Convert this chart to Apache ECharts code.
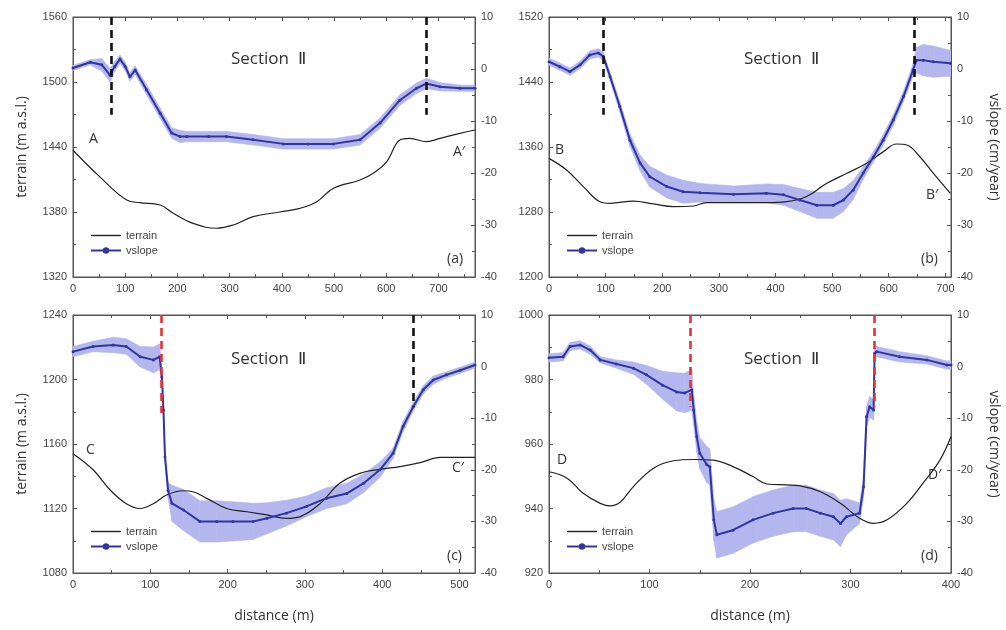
<!DOCTYPE html>
<html>
<head>
<meta charset="utf-8">
<script src="https://cdn.jsdelivr.net/npm/echarts@6/dist/echarts.min.js"></script>
<style>
  html, body { margin: 0; padding: 0; background: #fff; }
  #main { width: 1006px; height: 630px; }
</style>
</head>
<body>
<div id="main"></div>
<script>
// panel (a)
const distA = [0, 33, 55, 71, 80, 90, 100, 109, 119, 141, 167, 189, 205, 218, 260, 294, 345, 403, 450, 499, 550, 588, 626, 658, 677, 703, 741, 770];
const vslA = [0.2, 1.3, 0.8, -1.2, 0.5, 1.9, 0.5, -1.5, -0.2, -4, -8.5, -12.3, -13, -13, -13, -13, -13.6, -14.4, -14.4, -14.4, -13.6, -10.4, -6, -3.7, -2.8, -3.4, -3.7, -3.7];
const errA = [0.5, 0.5, 1.2, 1.3, 1.0, 0.8, 0.8, 0.8, 0.8, 1, 1, 1, 1.2, 1, 1, 1, 1, 1, 1, 1, 1, 1, 1, 1, 1, 0.8, 0.6, 0.6];
const tDistA = [0, 51, 103, 128, 167, 192, 230, 275, 307, 345, 396, 435, 467, 499, 550, 575, 601, 626, 645, 677, 703, 741, 770];
const terrA = [1437, 1412.6, 1391, 1388.6, 1386.5, 1378.8, 1369.5, 1365, 1368, 1375.7, 1380, 1383.4, 1389.5, 1402, 1409.5, 1415.7, 1426.5, 1446.5, 1448, 1445, 1448, 1452.6, 1455.7];

// panel (b)
const distB = [0, 19, 37, 55, 72, 87, 96, 108, 125, 143, 161, 178, 208, 237, 267, 326, 384, 414, 443, 473, 502, 520, 537, 555, 573, 590, 608, 626, 643, 649, 661, 679, 709];
const vslB = [1.4, 0.45, -0.5, 0.8, 2.7, 3.1, 2.4, -1.5, -7.2, -13.7, -18.1, -20.7, -22.6, -23.6, -23.8, -24.1, -23.9, -24.2, -25.2, -26.2, -26.2, -25.2, -23.3, -20, -16.9, -13.7, -9.8, -5.3, -0.2, 1.7, 1.7, 1.4, 1.1];
const errB = [0.7, 0.7, 0.7, 0.7, 0.8, 0.8, 0.8, 0.8, 1, 1.2, 1.5, 2, 2.2, 2.2, 1.8, 1.6, 1.8, 2, 2.2, 2.5, 2.5, 2.2, 1.8, 1.2, 1, 1, 1, 1, 1.2, 2.5, 3, 3, 2.5];
const tDistB = [0, 31, 61, 90, 108, 149, 184, 220, 255, 278, 326, 384, 420, 455, 490, 526, 561, 590, 614, 632, 655, 679, 709];
const terrB = [1346, 1331.7, 1311, 1292.7, 1290.7, 1293.5, 1290, 1286.6, 1287.4, 1291.5, 1291.5, 1291.5, 1292.7, 1299, 1315, 1327.6, 1340, 1354, 1363.7, 1362.5, 1348, 1327.6, 1303];

// panel (c)
const distC = [0, 26, 52, 69, 87, 104, 112, 115, 117, 119, 123, 128, 143, 164, 186, 207, 233, 251, 276, 302, 328, 354, 376, 397, 414, 427, 440, 453, 466, 483, 501, 520];
const vslC = [2.9, 3.9, 4.2, 3.9, 1.9, 1.3, 1.9, -2, -8.4, -17.5, -24, -26.5, -27.8, -30, -30, -30, -30, -29.4, -28.4, -27.1, -25.5, -24.6, -22.6, -20, -16.8, -11.6, -7.8, -4.5, -2.6, -1.6, -0.7, 0.3];
const errC = [1, 1, 1.5, 1.5, 2, 2.5, 2.5, 1.5, 1, 1, 1.5, 3.5, 4, 4, 4, 3.8, 3.5, 3, 2.5, 2, 2, 2, 1.8, 1.5, 1, 1, 0.8, 0.8, 0.8, 0.6, 0.6, 0.6];
const tDistC = [0, 26, 48, 69, 87, 104, 121, 143, 155, 173, 199, 225, 251, 276, 294, 320, 345, 371, 397, 423, 449, 475, 501, 520];
const terrC = [1154, 1144, 1131.5, 1123, 1120, 1123, 1128.4, 1131, 1130.4, 1126.3, 1120, 1118, 1116, 1113.9, 1115, 1123.2, 1135.6, 1141.8, 1144.3, 1146, 1148.4, 1151.7, 1151.7, 1151.7];

// panel (d)
const distD = [0, 14, 21, 31, 41, 51, 67, 84, 97, 113, 127, 135, 142, 144, 147, 150, 157, 160, 164, 167, 183, 203, 223, 243, 256, 270, 283, 290, 296, 309, 313, 316, 319, 323, 324, 326, 349, 376, 396, 400];
const vslD = [1.7, 1.9, 3.9, 4.2, 3.2, 1.3, 0.5, -0.3, -1.6, -3.6, -4.9, -5.1, -4.5, -8.4, -13.6, -16.8, -19, -19.4, -29.7, -32.6, -31.7, -29.7, -28.4, -27.5, -27.5, -28.4, -29.1, -30.4, -29.1, -28.4, -23.3, -9.7, -7.8, -8.4, 2.6, 2.9, 1.9, 1.3, 0.3, 0.3];
const errD = [0.8, 0.8, 0.8, 0.8, 0.8, 0.6, 0.8, 1.2, 1.8, 2.7, 3.7, 3.8, 4, 3, 3, 3, 3.5, 3.5, 4, 4.5, 4.5, 4.5, 4.5, 4.5, 4.5, 4.5, 4.5, 4.5, 3.5, 2, 2, 2, 2, 2, 1, 1, 1, 0.8, 0.8, 0.8];
const tDistD = [0, 18, 34, 51, 61, 71, 84, 104, 124, 144, 163, 183, 203, 217, 236, 250, 270, 290, 309, 323, 336, 356, 372, 389, 400];
const terrD = [951.4, 949.4, 944.7, 941.6, 940.8, 942, 946.8, 952.5, 954.8, 955.2, 955, 953, 949.9, 947.6, 947.3, 947, 945.2, 941.6, 937, 935.4, 936.4, 941.6, 947.8, 955, 962.3];

// dashed section limits: [distance, bottom vslope, colour]
const cutsA = [[74, -8.8, '#111'], [677, -8.8, '#111']];
const cutsB = [[95, -8.8, '#111'], [645, -8.8, '#111']];
const cutsC = [[114, -9, '#e8303a'], [440, -7.8, '#111']];
const cutsD = [[141, -7.8, '#e8303a'], [324, -7.8, '#e8303a']];

const vTicks = { min: -40, max: 10, interval: 10 };

const panels = [
  { grid: { left: 73, top: 17, width: 402, height: 260 }, xMax: 770, yMin: 1320, yMax: 1560, yInt: 60,
    dist: distA, vsl: vslA, err: errA, tDist: tDistA, terr: terrA, cuts: cutsA, leftName: true, rightName: false, xName: false },
  { grid: { left: 549, top: 17, width: 402, height: 260 }, xMax: 710, yMin: 1200, yMax: 1520, yInt: 80,
    dist: distB, vsl: vslB, err: errB, tDist: tDistB, terr: terrB, cuts: cutsB, leftName: false, rightName: true, xName: false },
  { grid: { left: 73, top: 315, width: 402, height: 258 }, xMax: 520, yMin: 1080, yMax: 1240, yInt: 40,
    dist: distC, vsl: vslC, err: errC, tDist: tDistC, terr: terrC, cuts: cutsC, leftName: true, rightName: false, xName: true },
  { grid: { left: 549, top: 315, width: 402, height: 258 }, xMax: 400, yMin: 920, yMax: 1000, yInt: 20,
    dist: distD, vsl: vslD, err: errD, tDist: tDistD, terr: terrD, cuts: cutsD, leftName: false, rightName: true, xName: true }
];

const axisCol = '#555';
const labelStyle = { color: '#444', fontSize: 11, fontFamily: 'Liberation Sans', formatter: v => String(v) };
const nameStyle = { color: '#333', fontSize: 14, fontFamily: 'Open Sans' };
const zip = (xs, ys) => xs.map((x, i) => [x, ys[i]]);

// error band: one quad per segment between neighbouring points
function bandItem(params, api) {
  const p0 = api.coord([api.value(0), api.value(1)]);
  const p1 = api.coord([api.value(3), api.value(4)]);
  const p2 = api.coord([api.value(3), api.value(5)]);
  const p3 = api.coord([api.value(0), api.value(2)]);
  return {
    type: 'polygon',
    shape: { points: [p0, p1, p2, p3] },
    style: { fill: '#b3b7ee', stroke: '#b3b7ee', lineWidth: 0.6 }
  };
}

const grids = [], xAxes = [], topAxes = [], yAxes = [], series = [], legends = [];

panels.forEach((p, i) => {
  grids.push(Object.assign({ show: true, borderColor: axisCol, borderWidth: 1 }, p.grid));
  xAxes.push({
    type: 'value', gridIndex: i, position: 'bottom', min: 0, max: p.xMax, interval: 100,
    name: p.xName ? 'distance (m)' : '', nameLocation: 'middle', nameGap: 36, nameTextStyle: nameStyle,
    axisLine: { onZero: false, lineStyle: { color: axisCol } },
    axisTick: { inside: true, length: 4, lineStyle: { color: axisCol } },
    minorTick: { show: true, splitNumber: 2, length: 3, lineStyle: { color: axisCol } },
    axisLabel: Object.assign({ margin: 6, showMaxLabel: p.xMax % 100 === 0 }, labelStyle),
    splitLine: { show: false }
  });
  // frame ticks along the top edge
  topAxes.push({
    type: 'value', gridIndex: i, position: 'top', min: 0, max: p.xMax, interval: 100,
    axisLine: { onZero: false, lineStyle: { color: axisCol } },
    axisTick: { inside: true, length: 4, lineStyle: { color: axisCol } },
    minorTick: { show: true, splitNumber: 2, length: 3, lineStyle: { color: axisCol } },
    axisLabel: { show: false },
    splitLine: { show: false }
  });
  yAxes.push({
    type: 'value', gridIndex: i, position: 'left', min: p.yMin, max: p.yMax, interval: p.yInt,
    name: p.leftName ? 'terrain (m a.s.l.)' : '', nameLocation: 'middle', nameGap: 44, nameTextStyle: nameStyle,
    axisLine: { show: true, onZero: false, lineStyle: { color: axisCol } },
    axisTick: { inside: true, length: 4, lineStyle: { color: axisCol } },
    minorTick: { show: true, splitNumber: 2, length: 3, lineStyle: { color: axisCol } },
    axisLabel: Object.assign({ margin: 6 }, labelStyle),
    splitLine: { show: false }
  });
  yAxes.push(Object.assign({
    type: 'value', gridIndex: i, position: 'right',
    name: p.rightName ? 'vslope (cm/year)' : '', nameLocation: 'middle', nameGap: 36, nameRotate: -90, nameTextStyle: nameStyle,
    axisLine: { show: true, onZero: false, lineStyle: { color: axisCol } },
    axisTick: { inside: true, length: 4, lineStyle: { color: axisCol } },
    minorTick: { show: true, splitNumber: 2, length: 3, lineStyle: { color: axisCol } },
    axisLabel: Object.assign({ margin: 6 }, labelStyle),
    splitLine: { show: false }
  }, vTicks));

  const segs = [];
  for (let k = 0; k < p.dist.length - 1; k++) {
    segs.push([
      p.dist[k], p.vsl[k] - p.err[k], p.vsl[k] + p.err[k],
      p.dist[k + 1], p.vsl[k + 1] - p.err[k + 1], p.vsl[k + 1] + p.err[k + 1]
    ]);
  }

  series.push({
    name: 'terrain', type: 'line', xAxisIndex: i, yAxisIndex: 2 * i,
    data: zip(p.tDist, p.terr), smooth: 0.4, showSymbol: false, symbol: 'none',
    lineStyle: { color: '#222', width: 1.2 }, itemStyle: { color: '#222' }, z: 3
  });
  series.push({
    name: 'err' + i, type: 'custom', xAxisIndex: i, yAxisIndex: 2 * i + 1,
    silent: true, renderItem: bandItem, data: segs,
    encode: { x: [0, 3], y: [1, 2, 4, 5] }, z: 2
  });
  series.push({
    name: 'vslope', type: 'line', xAxisIndex: i, yAxisIndex: 2 * i + 1,
    data: zip(p.dist, p.vsl), symbol: 'circle', symbolSize: 3,
    lineStyle: { color: '#3035a0', width: 2 }, itemStyle: { color: '#3035a0' }, z: 4,
    markLine: {
      silent: true, symbol: ['none', 'none'], label: { show: false },
      data: p.cuts.map(c => [
        { coord: [c[0], 10], lineStyle: { color: c[2], type: [8, 5], width: 2.6 } },
        { coord: [c[0], c[1]] }
      ])
    }
  });

  legends.push({
    orient: 'vertical', left: p.grid.left + 12, top: p.grid.top + p.grid.height - 52,
    data: [
      { name: 'terrain', icon: 'path://M0,0 H30 V1.4 H0 Z' },
      { name: 'vslope' }
    ],
    itemWidth: 30, itemHeight: 8, itemGap: 4,
    textStyle: { color: '#444', fontSize: 11, fontFamily: 'Liberation Sans' },
    selectedMode: false
  });
});

const txt = (x, y, s, size) => ({
  type: 'text', left: x, top: y,
  style: { text: s, fill: '#333', fontSize: size, fontFamily: 'Open Sans' }
});

const graphics = [
  txt(231, 51, 'Section  Ⅱ', 17), txt(744, 51, 'Section  Ⅱ', 17),
  txt(231, 351, 'Section  Ⅱ', 17), txt(744, 351, 'Section  Ⅱ', 17),
  txt(89, 132, 'A', 14), txt(453, 145, 'A′', 14),
  txt(555, 143, 'B', 14), txt(926, 188, 'B′', 14),
  txt(86, 443, 'C', 14), txt(452, 461, 'C′', 14),
  txt(557, 453, 'D', 14), txt(928, 468, 'D′', 14),
  txt(447, 252, '(a)', 14), txt(921, 252, '(b)', 14),
  txt(447, 549, '(c)', 14), txt(921, 549, '(d)', 14)
];

const chart = echarts.init(document.getElementById('main'));
chart.setOption({
  animation: false,
  backgroundColor: '#fff',
  grid: grids,
  xAxis: xAxes.concat(topAxes),
  yAxis: yAxes,
  legend: legends,
  series: series,
  graphic: graphics
});
</script>
</body>
</html>
